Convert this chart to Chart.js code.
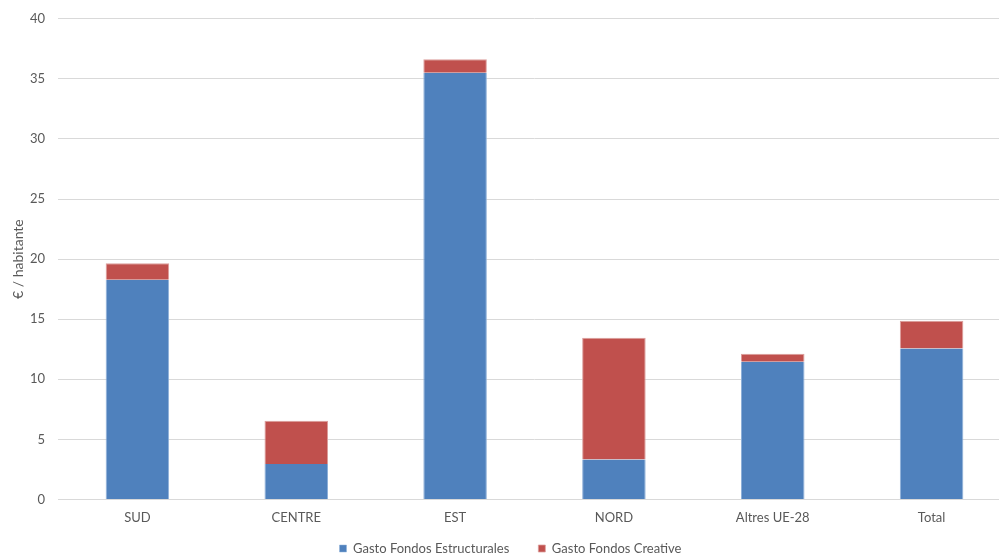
<!DOCTYPE html>
<html>
<head>
<meta charset="utf-8">
<script src="https://cdn.jsdelivr.net/npm/chart.js@4"></script>
<style>
  html, body { margin: 0; padding: 0; background: #fff; }
  #clip { width: 999px; height: 556px; overflow: hidden; }
  /* plot area runs a little past the right and bottom edges */
  #wrap { width: 1011px; height: 583px; margin-top: -2px; }
</style>
</head>
<body>
<div id="clip"><div id="wrap"><canvas id="chart"></canvas></div></div>
<script>
const CATEGORIES   = ["SUD", "CENTRE", "EST", "NORD", "Altres UE-28", "Total"];
const ESTRUCTURALS = [18.28, 2.94, 35.5, 3.33, 11.46, 12.56];
const CREATIVE     = [1.38, 3.61, 1.13, 10.12, 0.66, 2.31];
const Y_TICKS      = [0, 5, 10, 15, 20, 25, 30, 35, 40];

const FONT = "Lato, 'Open Sans', sans-serif";
const GREY = "#595959";
const LEGEND_LIFT = 16;

// pull the legend up closer to the category labels
const liftLegend = {
  id: "liftLegend",
  afterLayout(chart) {
    chart.legend.top -= LEGEND_LIFT;
    chart.legend.bottom -= LEGEND_LIFT;
  }
};

new Chart(document.getElementById("chart"), {
  type: "bar",
  plugins: [liftLegend],
  data: {
    labels: CATEGORIES,
    datasets: [
      { label: "Gasto Fondos Estructurales", data: ESTRUCTURALS, backgroundColor: "#4f81bd", borderColor: "#8fb0d9", borderWidth: { left: 1, right: 1 }, borderSkipped: false },
      { label: "Gasto Fondos Creative",      data: CREATIVE,     backgroundColor: "#c0504d", borderColor: "#dc9e9c", borderWidth: { left: 1, right: 1, top: 1 }, borderSkipped: false }
    ]
  },
  options: {
    animation: false, responsive: true, maintainAspectRatio: false,
    layout: { padding: { top: 8, right: 0, left: 10, bottom: 0 } },
    datasets: { bar: { barPercentage: 0.8, categoryPercentage: 0.5 } },
    plugins: {
      tooltip: { enabled: false },
      legend: {
        position: "bottom",
        labels: { color: GREY, font: { family: FONT, size: 13 }, boxWidth: 7, boxHeight: 7, padding: 29 }
      }
    },
    scales: {
      x: {
        stacked: true,
        grid: { display: false },
        border: { color: "#d9d9d9" },
        ticks: { color: GREY, font: { family: FONT, size: 13 }, padding: 3 }
      },
      y: {
        stacked: true,
        min: 0, max: 40,
        afterBuildTicks: s => { s.ticks = Y_TICKS.map(v => ({ value: v })); },
        afterFit: s => { s.width = 48; },
        grid: { color: "#d9d9d9", drawTicks: false },
        border: { display: false },
        ticks: { color: GREY, font: { family: FONT, size: 13 }, padding: 13 },
        title: { display: true, text: "€ / habitante", color: GREY, font: { family: FONT, size: 14 }, padding: 0 }
      }
    }
  }
});
</script>
</body>
</html>
